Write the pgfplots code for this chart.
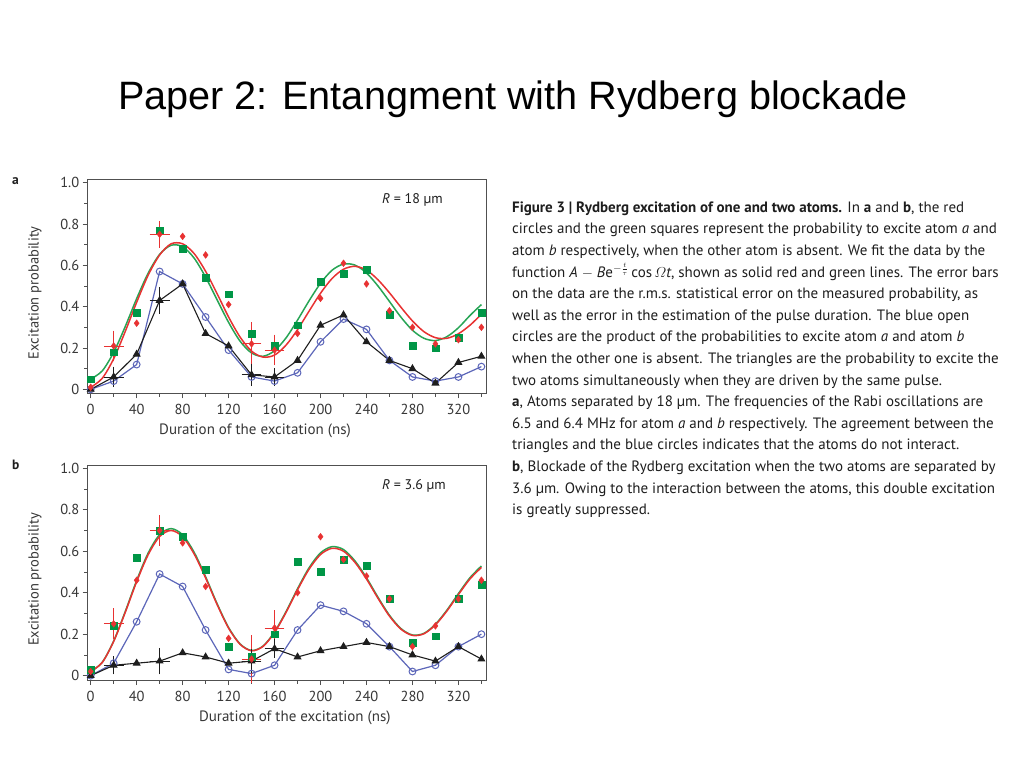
\documentclass[border=0pt]{standalone}
\usepackage{pgfplots}
\pgfplotsset{compat=1.18}
\usepackage{fontspec}
\setmainfont{PT Sans}
\newfontfamily\titlefont{Liberation Sans}
\definecolor{cred}{RGB}{232,50,50}
\definecolor{cgreen}{RGB}{0,150,70}
\definecolor{cgreenl}{RGB}{40,165,85}
\definecolor{cblue}{RGB}{92,102,185}
\definecolor{cblack}{RGB}{30,30,30}
\definecolor{cframe}{RGB}{80,80,80}
\definecolor{ctext}{RGB}{55,55,55}

\pgfplotsset{
  panel/.style={
    scale only axis, width=398.3pt, height=214pt,
    anchor=south west,
    xmin=-2.6, xmax=344,
    axis line style={draw=cframe, line width=1pt},
    tick align=outside, xtick pos=bottom, ytick pos=left,
    major tick length=5pt, minor tick length=3.5pt,
    tick style={draw=cframe, line width=0.8pt},
    xtick={0,40,...,320}, minor xtick={20,60,...,340},
    xticklabels={0,40,80,120,160,200,240,280,320},
    ytick={0,0.2,0.4,0.6,0.8,1.0}, minor ytick={0.1,0.3,0.5,0.7,0.9},
    yticklabels={0,0.2,0.4,0.6,0.8,1.0},
    ticklabel style={font=\fontsize{14.5}{16}\selectfont, text=ctext},
    xticklabel style={yshift=-2.5pt},
    xlabel={Duration of the excitation (ns)},
    ylabel={Excitation probability},
    xlabel style={font=\fontsize{15}{17}\selectfont, text=ctext},
    ylabel style={font=\fontsize{14.5}{16}\selectfont, text=ctext,
      at={(axis description cs:-0.1323,0.47)}, anchor=center},
    clip=false,
  },
  fitr/.style={cred, line width=1.5pt, smooth, no marks},
  fitg/.style={cgreenl, line width=1.5pt, smooth, no marks},
  bser/.style={cblue, line width=1.2pt, mark=o, mark size=3.4pt, mark options={fill=white, line width=1pt}},
  kser/.style={cblack, line width=1.1pt, mark=triangle*, mark size=3.6pt},
  gser/.style={only marks, mark=square*, mark size=3.3pt, cgreen},
  rser/.style={only marks, mark=diamond*, mark size=3.4pt, cred},
  rerr/.style={only marks, mark=*, mark size=0.01pt, cred,
    error bars/.cd, x dir=both, x explicit, y dir=both, y explicit,
    error bar style={line width=0.8pt, cred}, error mark options={mark size=3pt, line width=0.8pt, cred}},
  kerr/.style={only marks, mark=*, mark size=0.01pt, cblack,
    error bars/.cd, x dir=both, x explicit, y dir=both, y explicit,
    error bar style={line width=0.8pt, cblack}, error mark options={mark size=3pt, line width=0.8pt, cblack}},
}
\tikzset{captxt/.style={anchor=base west, inner sep=0pt, text=cblack, font=\fontsize{15}{17}\selectfont}}

\begin{document}
\begin{tikzpicture}
\fill[white] (0pt,0pt) rectangle (1024pt,768pt);
\node[anchor=base west, inner sep=0pt, font=\titlefont\fontsize{39.6}{48}\selectfont] at (118pt,658pt) {Paper 2: Entangment with Rydberg blockade};

% ---------- panel a ----------
\begin{axis}[panel, at={(87.7pt,374.7pt)}, ymin=-0.019, ymax=1.016,
  xlabel style={at={(axis description cs:0.42,0)}, anchor=center, yshift=-37.7pt}]
\addplot[fitg] coordinates {(0,0.050)(10,0.089)(20,0.179)(30,0.303)(40,0.439)(50,0.562)(60,0.653)(70,0.697)(80,0.690)(90,0.635)(100,0.543)(110,0.433)(120,0.324)(130,0.233)(140,0.176)(150,0.160)(160,0.187)(170,0.249)(180,0.335)(190,0.428)(200,0.513)(210,0.576)(220,0.606)(230,0.601)(240,0.563)(250,0.500)(260,0.425)(270,0.349)(280,0.286)(290,0.247)(300,0.236)(310,0.255)(320,0.298)(330,0.357)(340,0.410)};
\addplot[fitr] coordinates {(0,0.010)(10,0.053)(20,0.148)(30,0.279)(40,0.421)(50,0.552)(60,0.650)(70,0.704)(80,0.704)(90,0.657)(100,0.571)(110,0.463)(120,0.350)(130,0.253)(140,0.185)(150,0.156)(160,0.166)(170,0.214)(180,0.289)(190,0.378)(200,0.465)(210,0.536)(220,0.581)(230,0.595)(240,0.577)(250,0.530)(260,0.467)(270,0.397)(280,0.331)(290,0.279)(300,0.250)(310,0.247)(320,0.269)(330,0.310)(340,0.363)};
\addplot[bser] coordinates {(0,0.0)(20,0.04)(40,0.12)(60,0.57)(80,0.51)(100,0.35)(120,0.19)(140,0.06)(160,0.04)(180,0.08)(200,0.23)(220,0.34)(240,0.29)(260,0.14)(280,0.06)(300,0.04)(320,0.06)(340,0.11)};
\addplot[kser] coordinates {(0,0.0)(20,0.06)(40,0.17)(60,0.43)(80,0.51)(100,0.27)(120,0.21)(140,0.07)(160,0.06)(180,0.14)(200,0.31)(220,0.36)(240,0.23)(260,0.14)(280,0.10)(300,0.03)(320,0.13)(340,0.16)};
\addplot[gser] coordinates {(0,0.05)(20,0.18)(40,0.37)(60,0.77)(80,0.68)(100,0.54)(120,0.46)(140,0.27)(160,0.21)(180,0.31)(200,0.52)(220,0.56)(240,0.58)(260,0.36)(280,0.21)(300,0.20)(320,0.25)(340,0.37)};
\addplot[rser] coordinates {(0,0.01)(20,0.21)(40,0.32)(60,0.75)(80,0.74)(100,0.65)(120,0.41)(140,0.22)(160,0.19)(180,0.27)(200,0.44)(220,0.61)(240,0.51)(260,0.38)(280,0.30)(300,0.22)(320,0.24)(340,0.30)};
\addplot[rerr] coordinates {(20,0.21) +- (6,0.06) (60,0.75) +- (6,0.05) (140,0.22) +- (6,0.09) (160,0.19) +- (6,0.06)};
\addplot[kerr] coordinates {(20,0.06) +- (6,0.035) (60,0.43) +- (6,0.05) (140,0.07) +- (6,0.04) (160,0.06) +- (6,0.03)};
\end{axis}

% ---------- panel b ----------
\begin{axis}[panel, at={(87.7pt,88pt)}, ymin=-0.021, ymax=1.011,
  xlabel style={at={(axis description cs:0.52,0)}, anchor=center, yshift=-38pt}]
\addplot[fitg] coordinates {(0,0.020)(10,0.064)(20,0.167)(30,0.308)(40,0.459)(50,0.591)(60,0.680)(70,0.709)(80,0.679)(90,0.595)(100,0.477)(110,0.347)(120,0.232)(130,0.153)(140,0.121)(150,0.143)(160,0.211)(170,0.309)(180,0.419)(190,0.520)(200,0.592)(210,0.622)(220,0.608)(230,0.553)(240,0.472)(250,0.378)(260,0.291)(270,0.227)(280,0.196)(290,0.204)(300,0.248)(310,0.316)(320,0.396)(330,0.472)(340,0.529)};
\addplot[fitr] coordinates {(0,0.020)(10,0.063)(20,0.165)(30,0.304)(40,0.453)(50,0.583)(60,0.671)(70,0.700)(80,0.670)(90,0.587)(100,0.471)(110,0.343)(120,0.229)(130,0.151)(140,0.120)(150,0.141)(160,0.208)(170,0.305)(180,0.414)(190,0.513)(200,0.584)(210,0.614)(220,0.600)(230,0.546)(240,0.466)(250,0.373)(260,0.287)(270,0.224)(280,0.194)(290,0.202)(300,0.245)(310,0.312)(320,0.391)(330,0.466)(340,0.522)};
\addplot[bser] coordinates {(0,0.0)(20,0.06)(40,0.26)(60,0.49)(80,0.43)(100,0.22)(120,0.03)(140,0.01)(160,0.05)(180,0.22)(200,0.34)(220,0.31)(240,0.25)(260,0.14)(280,0.02)(300,0.05)(320,0.14)(340,0.20)};
\addplot[kser] coordinates {(0,0.0)(20,0.05)(40,0.06)(60,0.07)(80,0.11)(100,0.09)(120,0.06)(140,0.07)(160,0.13)(180,0.09)(200,0.12)(220,0.14)(240,0.16)(260,0.14)(280,0.10)(300,0.07)(320,0.14)(340,0.08)};
\addplot[gser] coordinates {(0,0.03)(20,0.24)(40,0.57)(60,0.70)(80,0.67)(100,0.51)(120,0.14)(140,0.09)(160,0.20)(180,0.55)(200,0.50)(220,0.56)(240,0.53)(260,0.37)(280,0.16)(300,0.19)(320,0.37)(340,0.44)};
\addplot[rser] coordinates {(0,0.02)(20,0.25)(40,0.46)(60,0.70)(80,0.64)(100,0.43)(120,0.18)(140,0.08)(160,0.23)(180,0.40)(200,0.67)(220,0.56)(240,0.48)(260,0.37)(280,0.14)(300,0.24)(320,0.37)(340,0.46)};
\addplot[rerr] coordinates {(20,0.25) +- (6,0.06) (60,0.70) +- (6,0.06) (140,0.08) +- (6,0.10) (160,0.23) +- (6,0.07)};
\addplot[kerr] coordinates {(20,0.05) +- (6,0.03) (60,0.07) +- (6,0.05) (140,0.07) +- (6,0.045) (160,0.13) +- (6,0.03)};
\end{axis}

\node[anchor=base west, inner sep=0pt, font=\fontsize{13.5}{15}\selectfont\bfseries, text=cblack] at (12pt,583pt) {a};
\node[anchor=base west, inner sep=0pt, font=\fontsize{13.5}{15}\selectfont\bfseries, text=cblack] at (12pt,298pt) {b};
\node[anchor=base west, inner sep=0pt, font=\fontsize{14}{16}\selectfont, text=cblack] at (382pt,564pt) {\textit{R} = 18 µm};
\node[anchor=base west, inner sep=0pt, font=\fontsize{14}{16}\selectfont, text=cblack] at (382pt,278pt) {\textit{R} = 3.6 µm};

\node[captxt] at (512pt,555.7pt) {\textbf{Figure 3 | Rydberg excitation of one and two atoms.} In \textbf{a} and \textbf{b}, the red};
\node[captxt] at (512pt,534.1pt) {circles and the green squares represent the probability to excite atom \textit{a} and};
\node[captxt] at (512pt,512.5pt) {atom \textit{b} respectively, when the other atom is absent. We fit the data by the};
\node[captxt] at (512pt,490.9pt) {function \textit{A} $-$ \textit{B}e$^{-\frac{t}{\tau}}$\,cos\,$\mathnormal{\Omega}$\textit{t}, shown as solid red and green lines. The error bars};
\node[captxt] at (512pt,469.3pt) {on the data are the r.m.s. statistical error on the measured probability, as};
\node[captxt] at (512pt,447.7pt) {well as the error in the estimation of the pulse duration. The blue open};
\node[captxt] at (512pt,426.1pt) {circles are the product of the probabilities to excite atom \textit{a} and atom \textit{b}};
\node[captxt] at (512pt,404.5pt) {when the other one is absent. The triangles are the probability to excite the};
\node[captxt] at (512pt,382.9pt) {two atoms simultaneously when they are driven by the same pulse.};
\node[captxt] at (512pt,361.3pt) {\textbf{a}, Atoms separated by 18 µm. The frequencies of the Rabi oscillations are};
\node[captxt] at (512pt,339.7pt) {6.5 and 6.4 MHz for atom \textit{a} and \textit{b} respectively. The agreement between the};
\node[captxt] at (512pt,318.1pt) {triangles and the blue circles indicates that the atoms do not interact.};
\node[captxt] at (512pt,296.5pt) {\textbf{b}, Blockade of the Rydberg excitation when the two atoms are separated by};
\node[captxt] at (512pt,274.9pt) {3.6 µm. Owing to the interaction between the atoms, this double excitation};
\node[captxt] at (512pt,253.3pt) {is greatly suppressed.};
\end{tikzpicture}
\end{document}
